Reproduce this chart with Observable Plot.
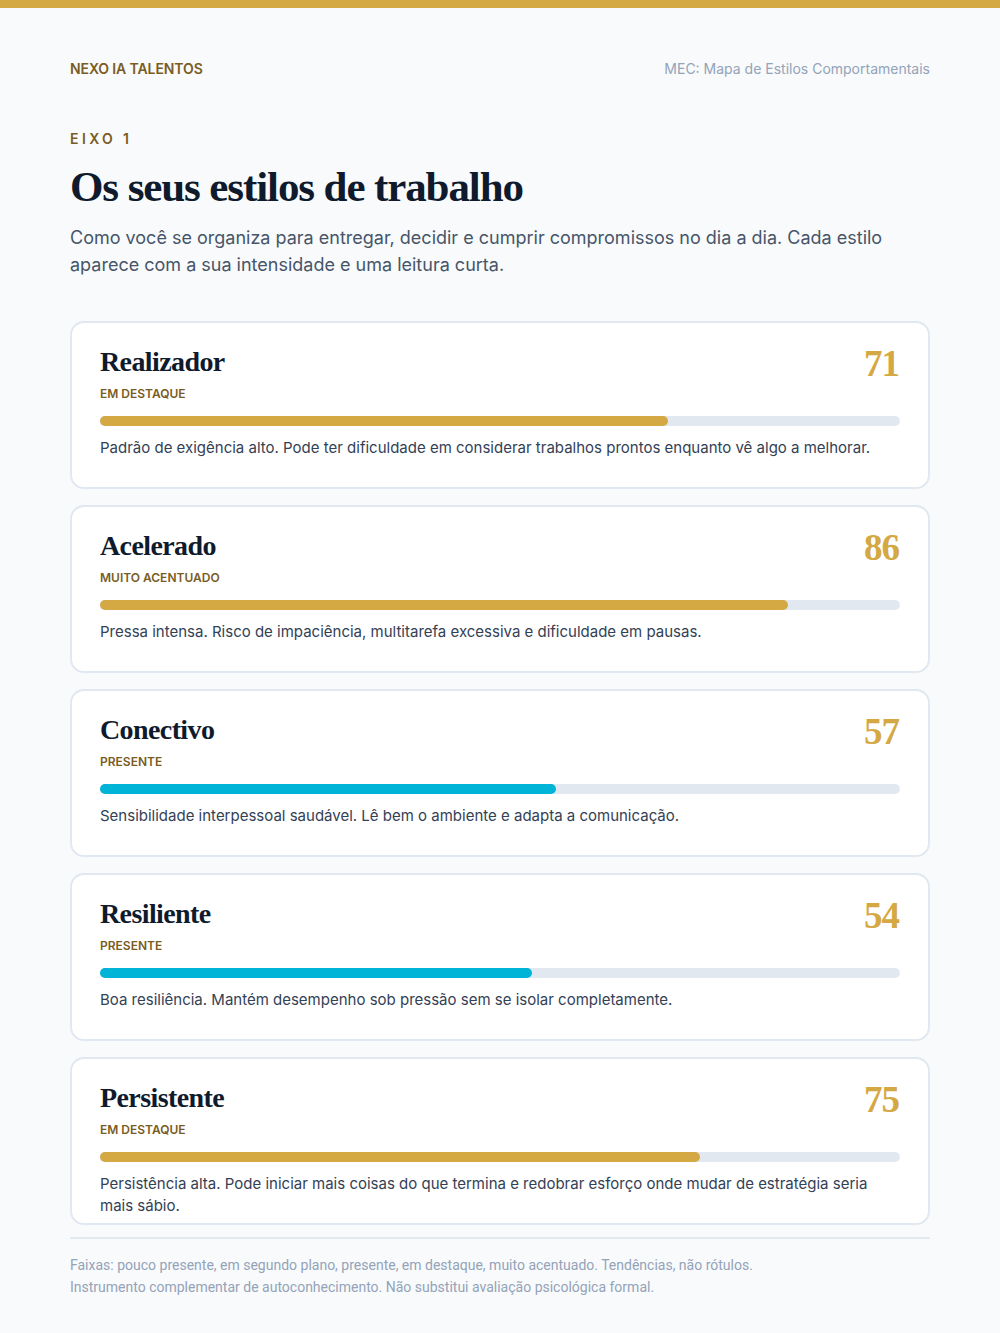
<!DOCTYPE html>
<html><head><meta charset="utf-8">
<script src="https://cdn.jsdelivr.net/npm/d3@7"></script>
<script src="https://cdn.jsdelivr.net/npm/@observablehq/plot@0.6"></script>
<style>
html,body{margin:0;padding:0;background:#f8fafc;}
body{width:1000px;height:1333px;position:relative;font-family:Inter,"Noto Sans",sans-serif;overflow:hidden;}
.topbar{position:absolute;left:0;top:0;width:1000px;height:8px;background:#d4a843;}
.wrap{position:absolute;left:70px;top:0;width:860px;}
.hdr{position:absolute;top:60px;left:0;width:860px;display:flex;justify-content:space-between;font-size:14px;line-height:18px;}
.brand{font-weight:600;color:#7a5c1f;letter-spacing:-0.1px;}
.meta{color:#94a3b8;}
.eixo{position:absolute;top:130px;left:0;font-size:14px;line-height:18px;font-weight:600;letter-spacing:3.4px;color:#7a5c1f;}
h1{position:absolute;top:160px;left:0;margin:0;font-family:"Liberation Serif",serif;font-weight:700;font-size:43px;line-height:54px;color:#0f1b2d;letter-spacing:-1.1px;}
.sub{position:absolute;top:224px;left:0;width:860px;font-size:18px;line-height:27px;color:#475569;}
.cards{position:absolute;top:321px;left:0;width:860px;}
.card{position:relative;box-sizing:border-box;height:168px;margin-bottom:16px;background:#fff;border:2px solid #e2e8f0;border-radius:14px;}
.ctitle{position:absolute;left:28px;top:21px;font-family:"Liberation Serif",serif;font-weight:700;font-size:28px;line-height:36px;color:#0f1b2d;letter-spacing:-0.6px;}
.score{position:absolute;right:29px;top:19px;font-family:"Liberation Serif",serif;font-weight:700;font-size:37px;line-height:44px;color:#d4a843;letter-spacing:-1px;}
.band{position:absolute;left:28px;top:63px;font-size:12px;line-height:16px;font-weight:600;color:#7a5c1f;}
.bar{position:absolute;left:28px;top:93px;width:800px;height:10px;}
.bar svg{display:block;}
.desc{position:absolute;left:28px;top:114px;width:800px;font-size:15px;line-height:22px;color:#334155;}
.rule{position:absolute;top:1237px;left:0;width:860px;height:2px;background:#e2e8f0;}
.foot{position:absolute;top:1254px;left:0;width:860px;font-family:Roboto,sans-serif;font-size:14px;line-height:22px;color:#94a3b8;letter-spacing:0px;}
</style></head>
<body>
<div class="topbar"></div>
<div class="wrap">
  <div class="hdr"><span class="brand">NEXO IA TALENTOS</span><span class="meta">MEC: Mapa de Estilos Comportamentais</span></div>
  <div class="eixo">EIXO 1</div>
  <h1>Os seus estilos de trabalho</h1>
  <div class="sub">Como você se organiza para entregar, decidir e cumprir compromissos no dia a dia. Cada estilo aparece com a sua intensidade e uma leitura curta.</div>
  <div class="cards" id="cards"></div>
  <div class="rule"></div>
  <div class="foot">Faixas: pouco presente, em segundo plano, presente, em destaque, muito acentuado. Tendências, não rótulos.<br>Instrumento complementar de autoconhecimento. Não substitui avaliação psicológica formal.</div>
</div>
<script>
const styles = ["Realizador", "Acelerado", "Conectivo", "Resiliente", "Persistente"];
const scores = [71, 86, 57, 54, 75];
const bands = ["EM DESTAQUE", "MUITO ACENTUADO", "PRESENTE", "PRESENTE", "EM DESTAQUE"];
const readings = [
  "Padrão de exigência alto. Pode ter dificuldade em considerar trabalhos prontos enquanto vê algo a melhorar.",
  "Pressa intensa. Risco de impaciência, multitarefa excessiva e dificuldade em pausas.",
  "Sensibilidade interpessoal saudável. Lê bem o ambiente e adapta a comunicação.",
  "Boa resiliência. Mantém desempenho sob pressão sem se isolar completamente.",
  "Persistência alta. Pode iniciar mais coisas do que termina e redobrar esforço onde mudar de estratégia seria mais sábio."
];
const scaleMax = [100];

const container = document.getElementById("cards");
styles.forEach((name, i) => {
  const card = document.createElement("div");
  card.className = "card";
  card.innerHTML = `<div class="ctitle"></div><div class="score"></div><div class="band"></div><div class="bar"></div><div class="desc"></div>`;
  card.querySelector(".ctitle").textContent = name;
  card.querySelector(".score").textContent = scores[i];
  card.querySelector(".band").textContent = bands[i];
  card.querySelector(".desc").textContent = readings[i];
  const row = [{style: name, score: scores[i], band: bands[i]}];
  const chart = Plot.plot({
    width: 800, height: 10, margin: 0,
    style: {background: "transparent", overflow: "visible"},
    x: {domain: [0, scaleMax[0]], axis: null},
    color: {domain: ["EM DESTAQUE", "MUITO ACENTUADO", "PRESENTE"], range: ["#d4a843", "#d4a843", "#00b4d8"]},
    marks: [
      Plot.barX(scaleMax, {x: d => d, fill: "#e2e8f0", rx: 5, ry: 5}),
      Plot.barX(row, {x: "score", fill: "band", rx: 5, ry: 5})
    ]
  });
  card.querySelector(".bar").appendChild(chart);
  container.appendChild(card);
});
</script>
</body></html>
